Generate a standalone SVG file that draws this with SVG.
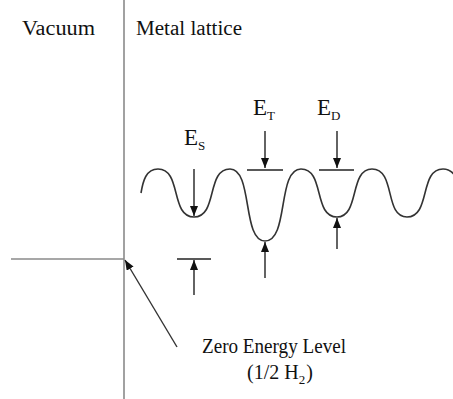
<svg xmlns="http://www.w3.org/2000/svg" width="453" height="399" viewBox="0 0 453 399">
<style>
text{font-family:"Liberation Serif","Times New Roman",serif;fill:#111}
.lbl{font-size:20px}
.big{font-size:23px}
.sub{font-size:13px}
.axis{stroke:#8a8a8a;stroke-width:1.6;fill:none}
.ln{stroke:#222;stroke-width:1.4;fill:none}
.wave{stroke:#333;stroke-width:1.6;fill:none}
</style>
<defs>
<marker id="ah" markerUnits="userSpaceOnUse" markerWidth="10" markerHeight="8" refX="10" refY="4" orient="auto">
<path d="M0,0 L10,4 L0,8 z" fill="#111"/>
</marker>
</defs>
<rect width="453" height="399" fill="#fff"/>
<g id="axes">
<line class="axis" x1="124" y1="0" x2="124" y2="399"/>
<line class="axis" x1="11" y1="259" x2="124" y2="259"/>
</g>
<g id="titles">
<text class="lbl" x="22" y="35" textLength="73" lengthAdjust="spacingAndGlyphs">Vacuum</text>
<text class="lbl" x="136" y="35" textLength="106" lengthAdjust="spacingAndGlyphs">Metal lattice</text>
</g>
<g id="wave">
<path class="wave" d="M141,193 C143,181 146,169 158,169 C182,169 170,217 194,217 C218,217 206,169 230,169 C253,169 242,241 265,241 C289,241 277,169 301,169 C325,169 313,217 337,217 C360,217 349,169 372,169 C396,169 384,217 407,217 C431,217 419,169 443,169 C467,169 455,217 479,217"/>
</g>
<g id="levels">
<line class="ln" x1="247" y1="170" x2="283" y2="170"/>
<line class="ln" x1="319" y1="170" x2="354" y2="170"/>
<line class="ln" x1="177" y1="259" x2="211" y2="259"/>
</g>
<g id="labels">
<text class="big" x="184" y="145">E<tspan class="sub" dy="5">S</tspan></text>
<text class="big" x="253" y="115">E<tspan class="sub" dy="5">T</tspan></text>
<text class="big" x="317" y="115">E<tspan class="sub" dy="5">D</tspan></text>
<text class="lbl" x="202" y="353" textLength="144" lengthAdjust="spacingAndGlyphs">Zero Energy Level</text>
<text class="lbl" x="247" y="379">(1/2 H<tspan class="sub" dy="5">2</tspan><tspan dy="-5" dx="1">)</tspan></text>
</g>
<g id="connectors">
<line class="ln" x1="194" y1="169" x2="194" y2="216" marker-end="url(#ah)"/>
<line class="ln" x1="265" y1="131" x2="265" y2="168" marker-end="url(#ah)"/>
<line class="ln" x1="337" y1="131" x2="337" y2="168" marker-end="url(#ah)"/>
<line class="ln" x1="265" y1="278" x2="265" y2="242" marker-end="url(#ah)"/>
<line class="ln" x1="337" y1="249" x2="337" y2="218" marker-end="url(#ah)"/>
<line class="ln" x1="194" y1="295" x2="194" y2="260" marker-end="url(#ah)"/>
<line stroke="#333" stroke-width="1.4" x1="177" y1="347" x2="125" y2="260" marker-end="url(#ah)"/>
</g>
</svg>
